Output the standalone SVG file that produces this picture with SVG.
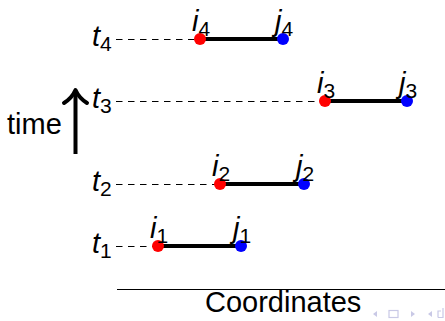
<svg xmlns="http://www.w3.org/2000/svg" width="445" height="321" viewBox="0 0 445 321">
  <style>
    .lbl { font-family: "Liberation Sans", Arial, sans-serif; font-size: 29px; fill: #000; }
    .m { font-style: italic; }
    .sub { font-style: normal; font-size: 21px; }
    .dash { stroke: #000; stroke-width: 1.1; stroke-dasharray: 6.5 5.5; fill: none; }
    .seg { stroke: #000; stroke-width: 4; fill: none; }
    .start { fill: #ff0000; }
    .end { fill: #0000ff; }
    .nav { fill: #c9c9e6; }
  </style>
  <rect width="445" height="321" fill="#fff"/>

  <!-- time axis -->
  <g id="time">
    <text class="lbl" x="7" y="134">time</text>
    <path d="M75.5 154 V93" stroke="#000" stroke-width="4" fill="none"/>
    <path d="M64 103 Q72 98 75.5 90 Q79 98 87 103" stroke="#000" stroke-width="4" fill="none" stroke-linecap="round" stroke-linejoin="round"/>
  </g>

  <!-- guide lines from the time labels -->
  <g id="connectors">
    <line class="dash" x1="116" y1="39.5" x2="196" y2="39.5"/>
    <line class="dash" x1="116" y1="101.5" x2="321" y2="101.5"/>
    <line class="dash" x1="116" y1="184.5" x2="216" y2="184.5"/>
    <line class="dash" x1="116" y1="246.5" x2="154" y2="246.5"/>
  </g>

  <g id="row4">
    <text class="lbl m" x="92" y="46">t<tspan class="sub" dy="5">4</tspan></text>
    <line class="seg" x1="200" y1="39" x2="283" y2="39"/>
    <circle class="start" cx="200" cy="39" r="6"/>
    <circle class="end" cx="283" cy="39" r="6"/>
    <text class="lbl m" x="192" y="31">i<tspan class="sub" dy="5">4</tspan></text>
    <text class="lbl m" x="275" y="31">j<tspan class="sub" dy="5">4</tspan></text>
  </g>

  <g id="row3">
    <text class="lbl m" x="92" y="108">t<tspan class="sub" dy="5">3</tspan></text>
    <line class="seg" x1="325" y1="101" x2="407" y2="101"/>
    <circle class="start" cx="325" cy="101" r="6"/>
    <circle class="end" cx="407" cy="101" r="6"/>
    <text class="lbl m" x="317" y="93">i<tspan class="sub" dy="5">3</tspan></text>
    <text class="lbl m" x="399" y="93">j<tspan class="sub" dy="5">3</tspan></text>
  </g>

  <g id="row2">
    <text class="lbl m" x="92" y="191">t<tspan class="sub" dy="5">2</tspan></text>
    <line class="seg" x1="220" y1="184" x2="304" y2="184"/>
    <circle class="start" cx="220" cy="184" r="6"/>
    <circle class="end" cx="304" cy="184" r="6"/>
    <text class="lbl m" x="212" y="176">i<tspan class="sub" dy="5">2</tspan></text>
    <text class="lbl m" x="296" y="176">j<tspan class="sub" dy="5">2</tspan></text>
  </g>

  <g id="row1">
    <text class="lbl m" x="92" y="253">t<tspan class="sub" dy="5">1</tspan></text>
    <line class="seg" x1="158" y1="246" x2="241" y2="246"/>
    <circle class="start" cx="158" cy="246" r="6"/>
    <circle class="end" cx="241" cy="246" r="6"/>
    <text class="lbl m" x="150" y="238">i<tspan class="sub" dy="5">1</tspan></text>
    <text class="lbl m" x="233" y="238">j<tspan class="sub" dy="5">1</tspan></text>
  </g>

  <!-- footer -->
  <g id="footer">
    <line x1="117" y1="289.5" x2="445" y2="289.5" stroke="#000" stroke-width="1.2"/>
    <text class="lbl" x="205" y="312">Coordinates</text>
    <polygon class="nav" points="373,314 377,311 377,317"/>
    <rect x="389" y="310.5" width="9" height="7" fill="none" stroke="#c9c9e6" stroke-width="1.2"/>
    <polygon class="nav" points="415,314 411,311 411,317"/>
    <polygon class="nav" points="428,314 432,311 432,317"/>
    <path d="M438 317.5 V311 H441 M443 308 V317.5 H438" fill="none" stroke="#c9c9e6" stroke-width="1.2"/>
  </g>
</svg>
